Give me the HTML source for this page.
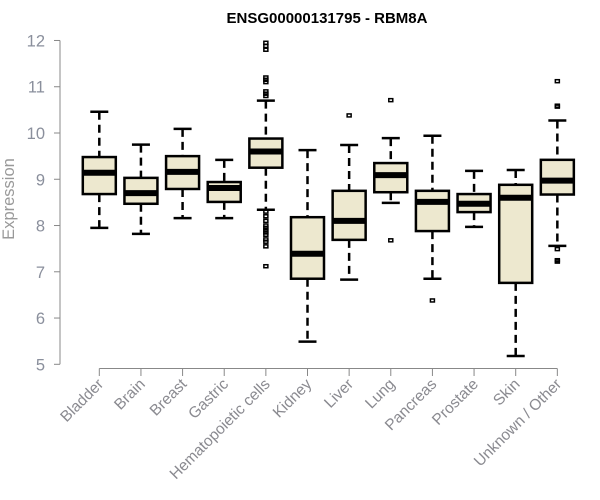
<!DOCTYPE html>
<html><head><meta charset="utf-8"><style>
body{margin:0;background:#fff;}
svg{display:block;font-family:"Liberation Sans",sans-serif;}
</style></head><body>
<svg id="chart" width="600" height="500">
<text x="327" y="23" text-anchor="middle" font-weight="bold" font-size="15" fill="#000">ENSG00000131795 - RBM8A</text>
<text transform="translate(14,199) rotate(-90)" text-anchor="middle" font-size="16.5" fill="#999">Expression</text>
<g id="axes"></g><g id="boxes"></g>
</svg>
<script>
const categories=["Bladder","Brain","Breast","Gastric","Hematopoietic cells","Kidney","Liver","Lung","Pancreas","Prostate","Skin","Unknown / Other"];
const lowWhisker=[7.95,7.82,8.16,8.16,8.34,5.49,6.83,8.49,6.85,7.97,5.18,7.56];
const q1=[8.68,8.47,8.79,8.51,9.25,6.85,7.69,8.72,7.88,8.29,6.76,8.67];
const median=[9.14,8.70,9.16,8.81,9.60,7.39,8.10,9.09,8.51,8.47,8.60,8.97];
const q3=[9.48,9.03,9.50,8.94,9.88,8.18,8.75,9.35,8.75,8.68,8.88,9.42];
const highWhisker=[10.46,9.75,10.09,9.42,10.70,9.63,9.74,9.89,9.94,9.18,9.20,10.27];
const outliers=[[],[],[],[],[11.95,11.88,11.8,11.2,11.15,11.1,10.9,10.85,10.8,8.3,8.2,8.1,8.0,7.95,7.9,7.85,7.8,7.7,7.65,7.55,7.12],[],[10.38],[10.71,7.68],[6.38],[],[],[11.12,10.59,10.57,7.49,7.25,7.22]];
const yTicks=[5,6,7,8,9,10,11,12];
const NS="http://www.w3.org/2000/svg";
function y(v){return 364.3-(v-5)*46.26;}
function x(i){return 99.3+i*41.64;}
function mk(p,t,a){const e=document.createElementNS(NS,t);for(const k in a)e.setAttribute(k,a[k]);p.appendChild(e);return e;}
const ax=document.getElementById('axes'),bx=document.getElementById('boxes');
const yl=mk(ax,'line',{x1:60,x2:60,y1:y(12),y2:y(5),stroke:'#888'});


yTicks.forEach(t=>{
 const l=mk(ax,'line',{x1:54,x2:60,y1:y(t),y2:y(t),stroke:'#888'});
 
 
 const tx=mk(ax,'text',{x:45,y:y(t)+6,'text-anchor':'end','font-size':'16.5',fill:'#8a8f9c'});
 tx.textContent=t;
 
 
});
const xl=mk(ax,'line',{x1:x(0),x2:x(categories.length-1),y1:368.5,y2:368.5,stroke:'#888'});


categories.forEach((c,i)=>{
 const cx=x(i);
 const l=mk(ax,'line',{x1:cx,x2:cx,y1:368.5,y2:376,stroke:'#888'});
 
 
 const tx=mk(ax,'text',{transform:`translate(${cx+5},${385}) rotate(-45)`,'text-anchor':'end','font-size':'15.5',fill:'#8a8a90'});
 tx.textContent=c;
 
 
 const g=mk(bx,'g',{});
 
 
 mk(g,'line',{x1:cx,x2:cx,y1:y(highWhisker[i]),y2:y(q3[i]),stroke:'#000','stroke-width':2.5,'stroke-dasharray':'8,5'});
 mk(g,'line',{x1:cx,x2:cx,y1:y(q1[i]),y2:y(lowWhisker[i]),stroke:'#000','stroke-width':2.5,'stroke-dasharray':'8,5'});
 mk(g,'line',{x1:cx-9,x2:cx+9,y1:y(highWhisker[i]),y2:y(highWhisker[i]),stroke:'#000','stroke-width':2.5});
 mk(g,'line',{x1:cx-9,x2:cx+9,y1:y(lowWhisker[i]),y2:y(lowWhisker[i]),stroke:'#000','stroke-width':2.5});
 mk(g,'rect',{x:cx-16.5,y:y(q3[i]),width:33,height:y(q1[i])-y(q3[i]),fill:'#ede8cf',stroke:'#000','stroke-width':2.5});
 mk(g,'line',{x1:cx-16.5,x2:cx+16.5,y1:y(median[i]),y2:y(median[i]),stroke:'#000','stroke-width':6});
 outliers[i].forEach(v=>{mk(g,'rect',{x:cx-2,y:y(v)-1.5,width:4,height:3,fill:'none',stroke:'#000','stroke-width':1.5});});
});
</script>
</body></html>
